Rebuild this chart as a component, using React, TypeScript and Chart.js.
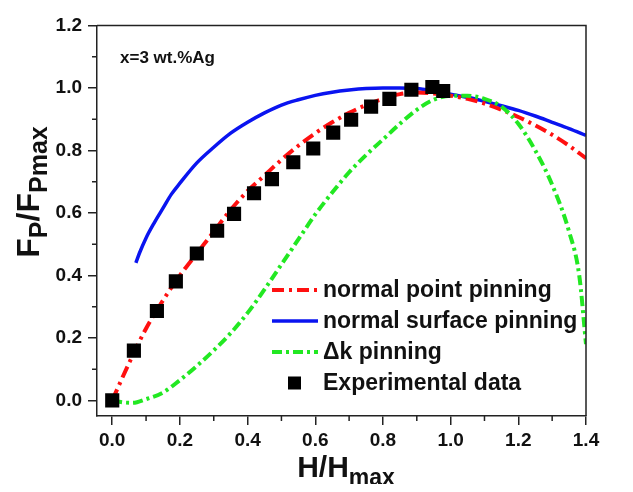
import React, { useEffect, useRef } from "react";
import { Chart, registerables } from "chart.js";

Chart.register(...registerables);

// ---- data ----
const xTicks = [0, 0.2, 0.4, 0.6, 0.8, 1.0, 1.2, 1.4];
const yTicks = [0, 0.2, 0.4, 0.6, 0.8, 1.0, 1.2];
const xMinor = [0.1, 0.3, 0.5, 0.7, 0.9, 1.1, 1.3];
const yMinor = [0.1, 0.3, 0.5, 0.7, 0.9, 1.1];

const pointX = [0, 0.05, 0.1, 0.15, 0.2, 0.25, 0.3, 0.35, 0.4, 0.45, 0.5, 0.55, 0.6, 0.65, 0.7, 0.75, 0.8, 0.85, 0.9, 0.95, 1.0, 1.05, 1.1, 1.15, 1.2, 1.25, 1.3, 1.35, 1.4];
const pointY = [0, 0.12, 0.23, 0.32, 0.4, 0.47, 0.54, 0.61, 0.67, 0.72, 0.77, 0.815, 0.855, 0.89, 0.92, 0.945, 0.965, 0.98, 0.985, 0.982, 0.975, 0.965, 0.95, 0.93, 0.907, 0.88, 0.85, 0.815, 0.775];

const surfX = [0.07, 0.08, 0.1, 0.125, 0.15, 0.175, 0.2, 0.25, 0.3, 0.35, 0.4, 0.45, 0.5, 0.55, 0.6, 0.65, 0.7, 0.75, 0.8, 0.85, 0.9, 0.95, 1.0, 1.05, 1.1, 1.15, 1.2, 1.25, 1.3, 1.35, 1.4];
const surfY = [0.44, 0.47, 0.52, 0.57, 0.615, 0.66, 0.695, 0.76, 0.81, 0.855, 0.89, 0.92, 0.945, 0.962, 0.976, 0.986, 0.993, 0.998, 1.0, 1.0, 0.998, 0.99, 0.98, 0.97, 0.957, 0.943, 0.928, 0.91, 0.89, 0.87, 0.848];

const deltaX = [0, 0.03, 0.06, 0.1, 0.15, 0.2, 0.25, 0.3, 0.35, 0.4, 0.45, 0.5, 0.55, 0.6, 0.65, 0.7, 0.75, 0.8, 0.85, 0.9, 0.95, 1.0, 1.05, 1.1, 1.15, 1.2, 1.25, 1.3, 1.35, 1.38, 1.4];
const deltaY = [0, -0.006, -0.008, 0.004, 0.025, 0.065, 0.11, 0.16, 0.215, 0.28, 0.355, 0.435, 0.515, 0.595, 0.665, 0.73, 0.785, 0.835, 0.885, 0.93, 0.962, 0.975, 0.975, 0.965, 0.94, 0.885, 0.8, 0.69, 0.54, 0.4, 0.18];

const expX = [0, 0.064, 0.132, 0.188, 0.25, 0.31, 0.36, 0.419, 0.472, 0.535, 0.594, 0.653, 0.706, 0.765, 0.819, 0.884, 0.946, 0.978];
const expY = [0, 0.159, 0.286, 0.381, 0.47, 0.543, 0.597, 0.663, 0.708, 0.762, 0.806, 0.857, 0.898, 0.94, 0.965, 0.994, 1.003, 0.99];

const seriesLabels = ["normal point pinning", "normal surface pinning", "\u0394k pinning", "Experimental data"];
const annotationText = "x=3 wt.%Ag";

const FONT = "'Liberation Sans', Arial, Helvetica, sans-serif";

const zip = (xs: number[], ys: number[]) => xs.map((x, i) => ({ x, y: ys[i] }));

type Part = { t: string; sub?: boolean };

function drawParts(ctx: CanvasRenderingContext2D, parts: Part[], x: number, y: number, big: number, small: number, drop: number) {
  let total = 0;
  const widths = parts.map((p) => {
    ctx.font = `bold ${p.sub ? small : big}px ${FONT}`;
    const w = ctx.measureText(p.t).width;
    total += w;
    return w;
  });
  let cx = x - total / 2;
  ctx.textAlign = "left";
  ctx.textBaseline = "alphabetic";
  parts.forEach((p, i) => {
    ctx.font = `bold ${p.sub ? small : big}px ${FONT}`;
    ctx.fillText(p.t, cx, y + (p.sub ? drop : 0));
    cx += widths[i];
  });
}

const decorPlugin = {
  id: "decor",
  afterDraw(chart: any) {
    const { ctx, chartArea: a, scales } = chart;
    const xs = scales.x;
    const ys = scales.y;
    ctx.save();
    ctx.strokeStyle = "#222";
    ctx.lineWidth = 1.5;
    ctx.beginPath();
    ctx.moveTo(a.left, a.top);
    ctx.lineTo(a.right, a.top);
    ctx.lineTo(a.right, a.bottom);
    xMinor.forEach((v) => {
      const px = xs.getPixelForValue(v);
      ctx.moveTo(px, a.bottom);
      ctx.lineTo(px, a.bottom + 5);
    });
    yMinor.forEach((v) => {
      const py = ys.getPixelForValue(v);
      ctx.moveTo(a.left, py);
      ctx.lineTo(a.left - 5, py);
    });
    ctx.stroke();

    ctx.fillStyle = "#111";
    // annotation
    ctx.font = `bold 17px ${FONT}`;
    ctx.textAlign = "left";
    ctx.textBaseline = "alphabetic";
    ctx.fillText(annotationText, 112, 55);

    // x title
    drawParts(ctx, [{ t: "H/H" }, { t: "max", sub: true }], 338, 469, 30, 23, 8);

    // y title
    ctx.save();
    ctx.translate(31, 184);
    ctx.rotate(-Math.PI / 2);
    drawParts(ctx, [{ t: "F" }, { t: "P", sub: true }, { t: "/F" }, { t: "Pmax", sub: true }], 0, 0, 32, 25, 8);
    ctx.restore();

    // legend
    const rowY = [282, 313, 344, 375];
    const x0 = 264;
    const x1 = 310;
    chart.data.datasets.forEach((ds: any, i: number) => {
      const yy = rowY[i];
      if (ds.showLine === false) {
        ctx.fillStyle = ds.backgroundColor;
        ctx.fillRect(280, yy - 6.5, 13, 13);
      } else {
        ctx.save();
        ctx.strokeStyle = ds.borderColor;
        ctx.lineWidth = ds.borderWidth;
        ctx.setLineDash(ds.borderDash || []);
        ctx.beginPath();
        ctx.moveTo(x0, yy);
        ctx.lineTo(x1, yy);
        ctx.stroke();
        ctx.restore();
      }
      ctx.fillStyle = "#111";
      ctx.font = `bold 23px ${FONT}`;
      ctx.textAlign = "left";
      ctx.textBaseline = "middle";
      ctx.fillText(ds.label, 315, yy + 1);
    });
    ctx.restore();
  },
};

export default function App() {
  const ref = useRef<HTMLCanvasElement | null>(null);
  useEffect(() => {
    if (!ref.current) return;
    const chart = new Chart(ref.current, {
      type: "line",
      data: {
        datasets: [
          {
            label: seriesLabels[0],
            data: zip(pointX, pointY),
            borderColor: "#ff1010",
            borderWidth: 4,
            borderDash: [12, 5, 3, 5],
            pointRadius: 0,
            cubicInterpolationMode: "monotone",
            order: 2,
          },
          {
            label: seriesLabels[1],
            data: zip(surfX, surfY),
            borderColor: "#0a14f0",
            borderWidth: 3.5,
            pointRadius: 0,
            cubicInterpolationMode: "monotone",
            order: 3,
          },
          {
            label: seriesLabels[2],
            data: zip(deltaX, deltaY),
            borderColor: "#22e822",
            borderWidth: 4,
            borderDash: [10, 4, 3, 4],
            pointRadius: 0,
            cubicInterpolationMode: "monotone",
            order: 1,
          },
          {
            label: seriesLabels[3],
            data: zip(expX, expY),
            showLine: false,
            pointStyle: "rect",
            pointRadius: 10,
            pointHoverRadius: 10,
            backgroundColor: "#000",
            borderColor: "#000",
            borderWidth: 0,
            order: 0,
          },
        ] as any,
      },
      options: {
        responsive: false,
        animation: false,
        layout: { padding: { left: 0, top: 13, right: 39, bottom: 0 } },
        plugins: {
          legend: { display: false },
          tooltip: { enabled: false },
        },
        scales: {
          x: {
            type: "linear",
            min: -0.045,
            max: 1.4,
            afterBuildTicks: (s: any) => {
              s.ticks = xTicks.map((v) => ({ value: v }));
            },
            afterFit: (s: any) => {
              s.height = 76;
            },
            grid: { drawOnChartArea: false, tickLength: 9, color: "#222", lineWidth: 1.5 },
            border: { color: "#222", width: 1.5 },
            ticks: {
              color: "#111",
              padding: 4,
              maxRotation: 0,
              font: { family: FONT, weight: "bold", size: 19 },
              callback: (v: any) => Number(v).toFixed(1),
            },
          },
          y: {
            type: "linear",
            min: -0.05,
            max: 1.2,
            afterBuildTicks: (s: any) => {
              s.ticks = yTicks.map((v) => ({ value: v }));
            },
            afterFit: (s: any) => {
              s.width = 89;
            },
            grid: { drawOnChartArea: false, tickLength: 9, color: "#222", lineWidth: 1.5 },
            border: { color: "#222", width: 1.5 },
            ticks: {
              color: "#111",
              padding: 6,
              font: { family: FONT, weight: "bold", size: 19 },
              callback: (v: any) => Number(v).toFixed(1),
            },
          },
        },
      } as any,
      plugins: [decorPlugin],
    });
    return () => chart.destroy();
  }, []);

  return (
    <div style={{ width: 617, height: 484, marginBottom: -8 }}>
      <canvas ref={ref} width={617} height={484} style={{ display: "block" }} />
    </div>
  );
}
